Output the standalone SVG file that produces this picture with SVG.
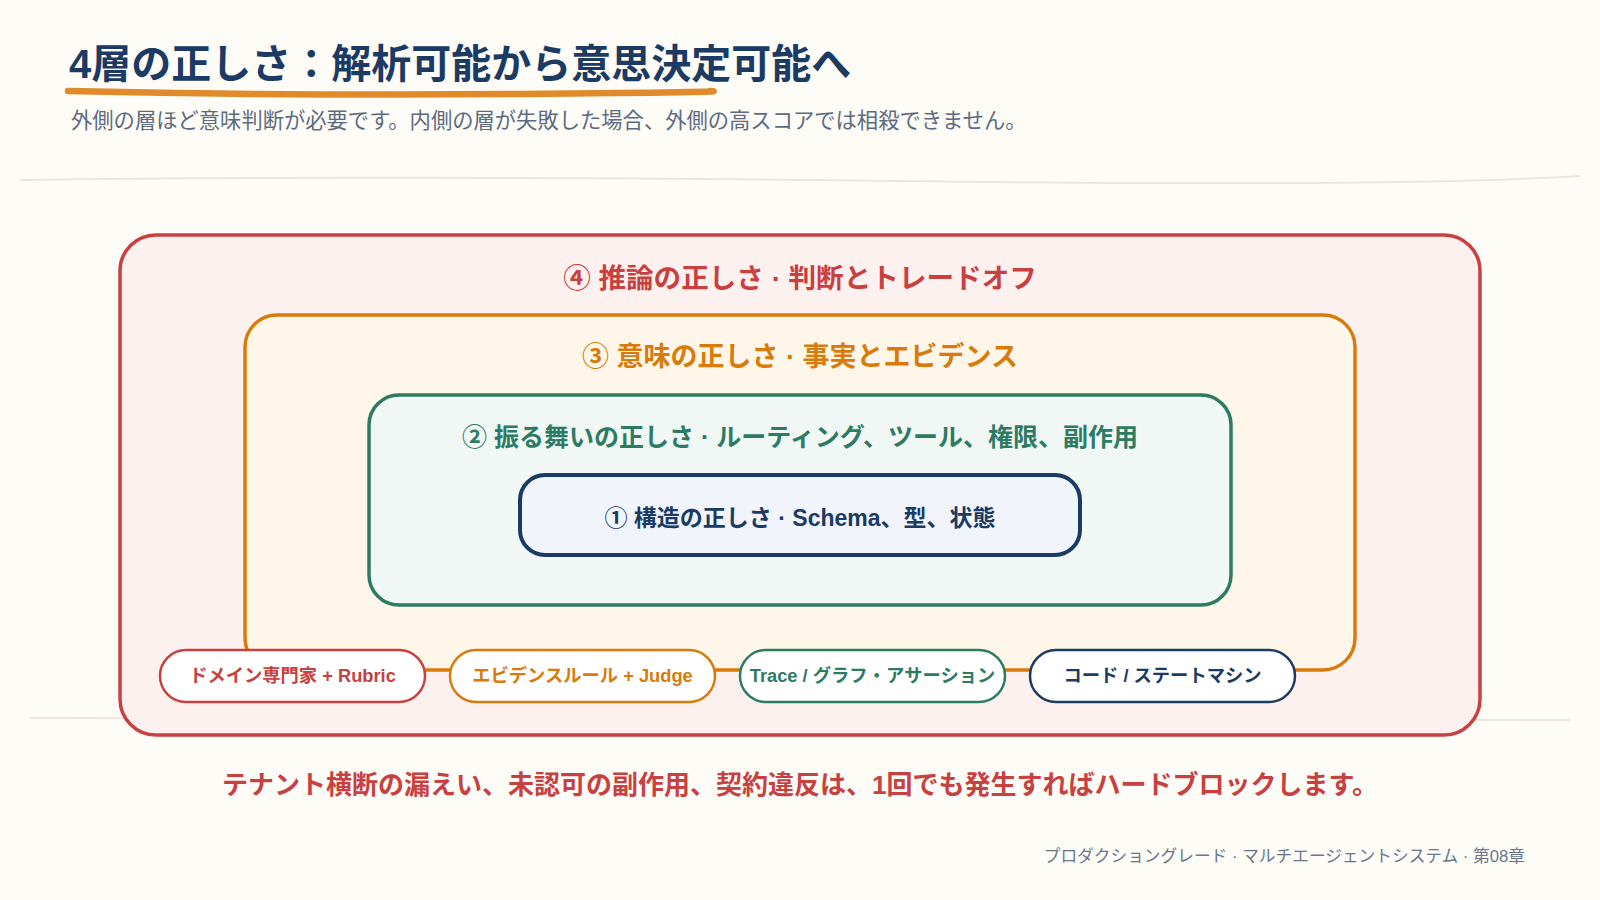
<svg xmlns="http://www.w3.org/2000/svg" width="1600" height="900" viewBox="0 0 1600 900">
  <style>
    .t { font-family: "Liberation Sans", "Noto Sans CJK JP", sans-serif; }
    .lbl { font-weight: 700; text-anchor: middle; }
    .pill { fill: #ffffff; stroke-width: 2.5; }
    .ptxt { font-family: "Liberation Sans", "Noto Sans CJK JP", sans-serif; font-size: 18.3px; font-weight: 700; text-anchor: middle; }
  </style>
  <rect width="1600" height="900" fill="#fdfcf7"/>

  <!-- header -->
  <text class="t" x="69" y="78" font-size="40" font-weight="700" fill="#1b3a64">4層の正しさ：解析可能から意思決定可能へ</text>
  <path d="M68 91 Q 300 96 520 94 T 710 91" fill="none" stroke="#e08a2a" stroke-width="6.5" stroke-linecap="round"/>
  <text class="t" x="71" y="128" font-size="21.3" fill="#5d6b80">外側の層ほど意味判断が必要です。内側の層が失敗した場合、外側の高スコアでは相殺できません。</text>
  <path d="M20 180 Q 400 175 900 181 T 1580 176" fill="none" stroke="#ece7da" stroke-width="2"/>
  <path d="M30 718 Q 700 720 1570 720" fill="none" stroke="#ece7da" stroke-width="2"/>

  <!-- layer 4 -->
  <g id="layer4">
    <rect x="120" y="235" width="1360" height="500" rx="36" fill="#fdf1f0" stroke="#c8403f" stroke-width="3.5"/>
    <text class="t lbl" x="800" y="288" font-size="27.6" fill="#c8403f">④ 推論の正しさ · 判断とトレードオフ</text>
  </g>
  <!-- layer 3 -->
  <g id="layer3">
    <rect x="245" y="315" width="1110" height="355" rx="32" fill="#fef7e9" stroke="#d97b0b" stroke-width="3.5"/>
    <text class="t lbl" x="800" y="366" font-size="27" fill="#d97b0b">③ 意味の正しさ · 事実とエビデンス</text>
  </g>
  <!-- layer 2 -->
  <g id="layer2">
    <rect x="369" y="395" width="862" height="210" rx="30" fill="#f0f7f4" stroke="#2e7b63" stroke-width="3.5"/>
    <text class="t lbl" x="800" y="446" font-size="25" fill="#2e7b63">② 振る舞いの正しさ · ルーティング、ツール、権限、副作用</text>
  </g>
  <!-- layer 1 -->
  <g id="layer1">
    <rect x="520" y="475" width="560" height="80" rx="25" fill="#f1f5fb" stroke="#1b3a64" stroke-width="4"/>
    <text class="t lbl" x="800" y="526" font-size="23" fill="#1b3a64">① 構造の正しさ · Schema、型、状態</text>
  </g>

  <!-- evaluation method pills -->
  <g id="pill-rubric">
    <rect class="pill" x="160" y="650" width="265" height="52" rx="26" stroke="#c8403f"/>
    <text class="ptxt" x="292.5" y="682" fill="#c8403f">ドメイン専門家 + Rubric</text>
  </g>
  <g id="pill-judge">
    <rect class="pill" x="450" y="650" width="265" height="52" rx="26" stroke="#d97b0b"/>
    <text class="ptxt" x="582.5" y="682" fill="#d97b0b">エビデンスルール + Judge</text>
  </g>
  <g id="pill-trace">
    <rect class="pill" x="740" y="650" width="265" height="52" rx="26" stroke="#2e7b63"/>
    <text class="ptxt" x="872.5" y="682" fill="#2e7b63">Trace / グラフ・アサーション</text>
  </g>
  <g id="pill-code">
    <rect class="pill" x="1030" y="650" width="265" height="52" rx="26" stroke="#1b3a64"/>
    <text class="ptxt" x="1162.5" y="682" fill="#1b3a64">コード / ステートマシン</text>
  </g>

  <!-- footer notes -->
  <text class="t" x="800" y="794" font-size="26" font-weight="700" fill="#c8403f" text-anchor="middle">テナント横断の漏えい、未認可の副作用、契約違反は、1回でも発生すればハードブロックします。</text>
  <text class="t" x="1525" y="862" font-size="16.7" fill="#6a778a" text-anchor="end">プロダクショングレード · マルチエージェントシステム · 第08章</text>
</svg>
